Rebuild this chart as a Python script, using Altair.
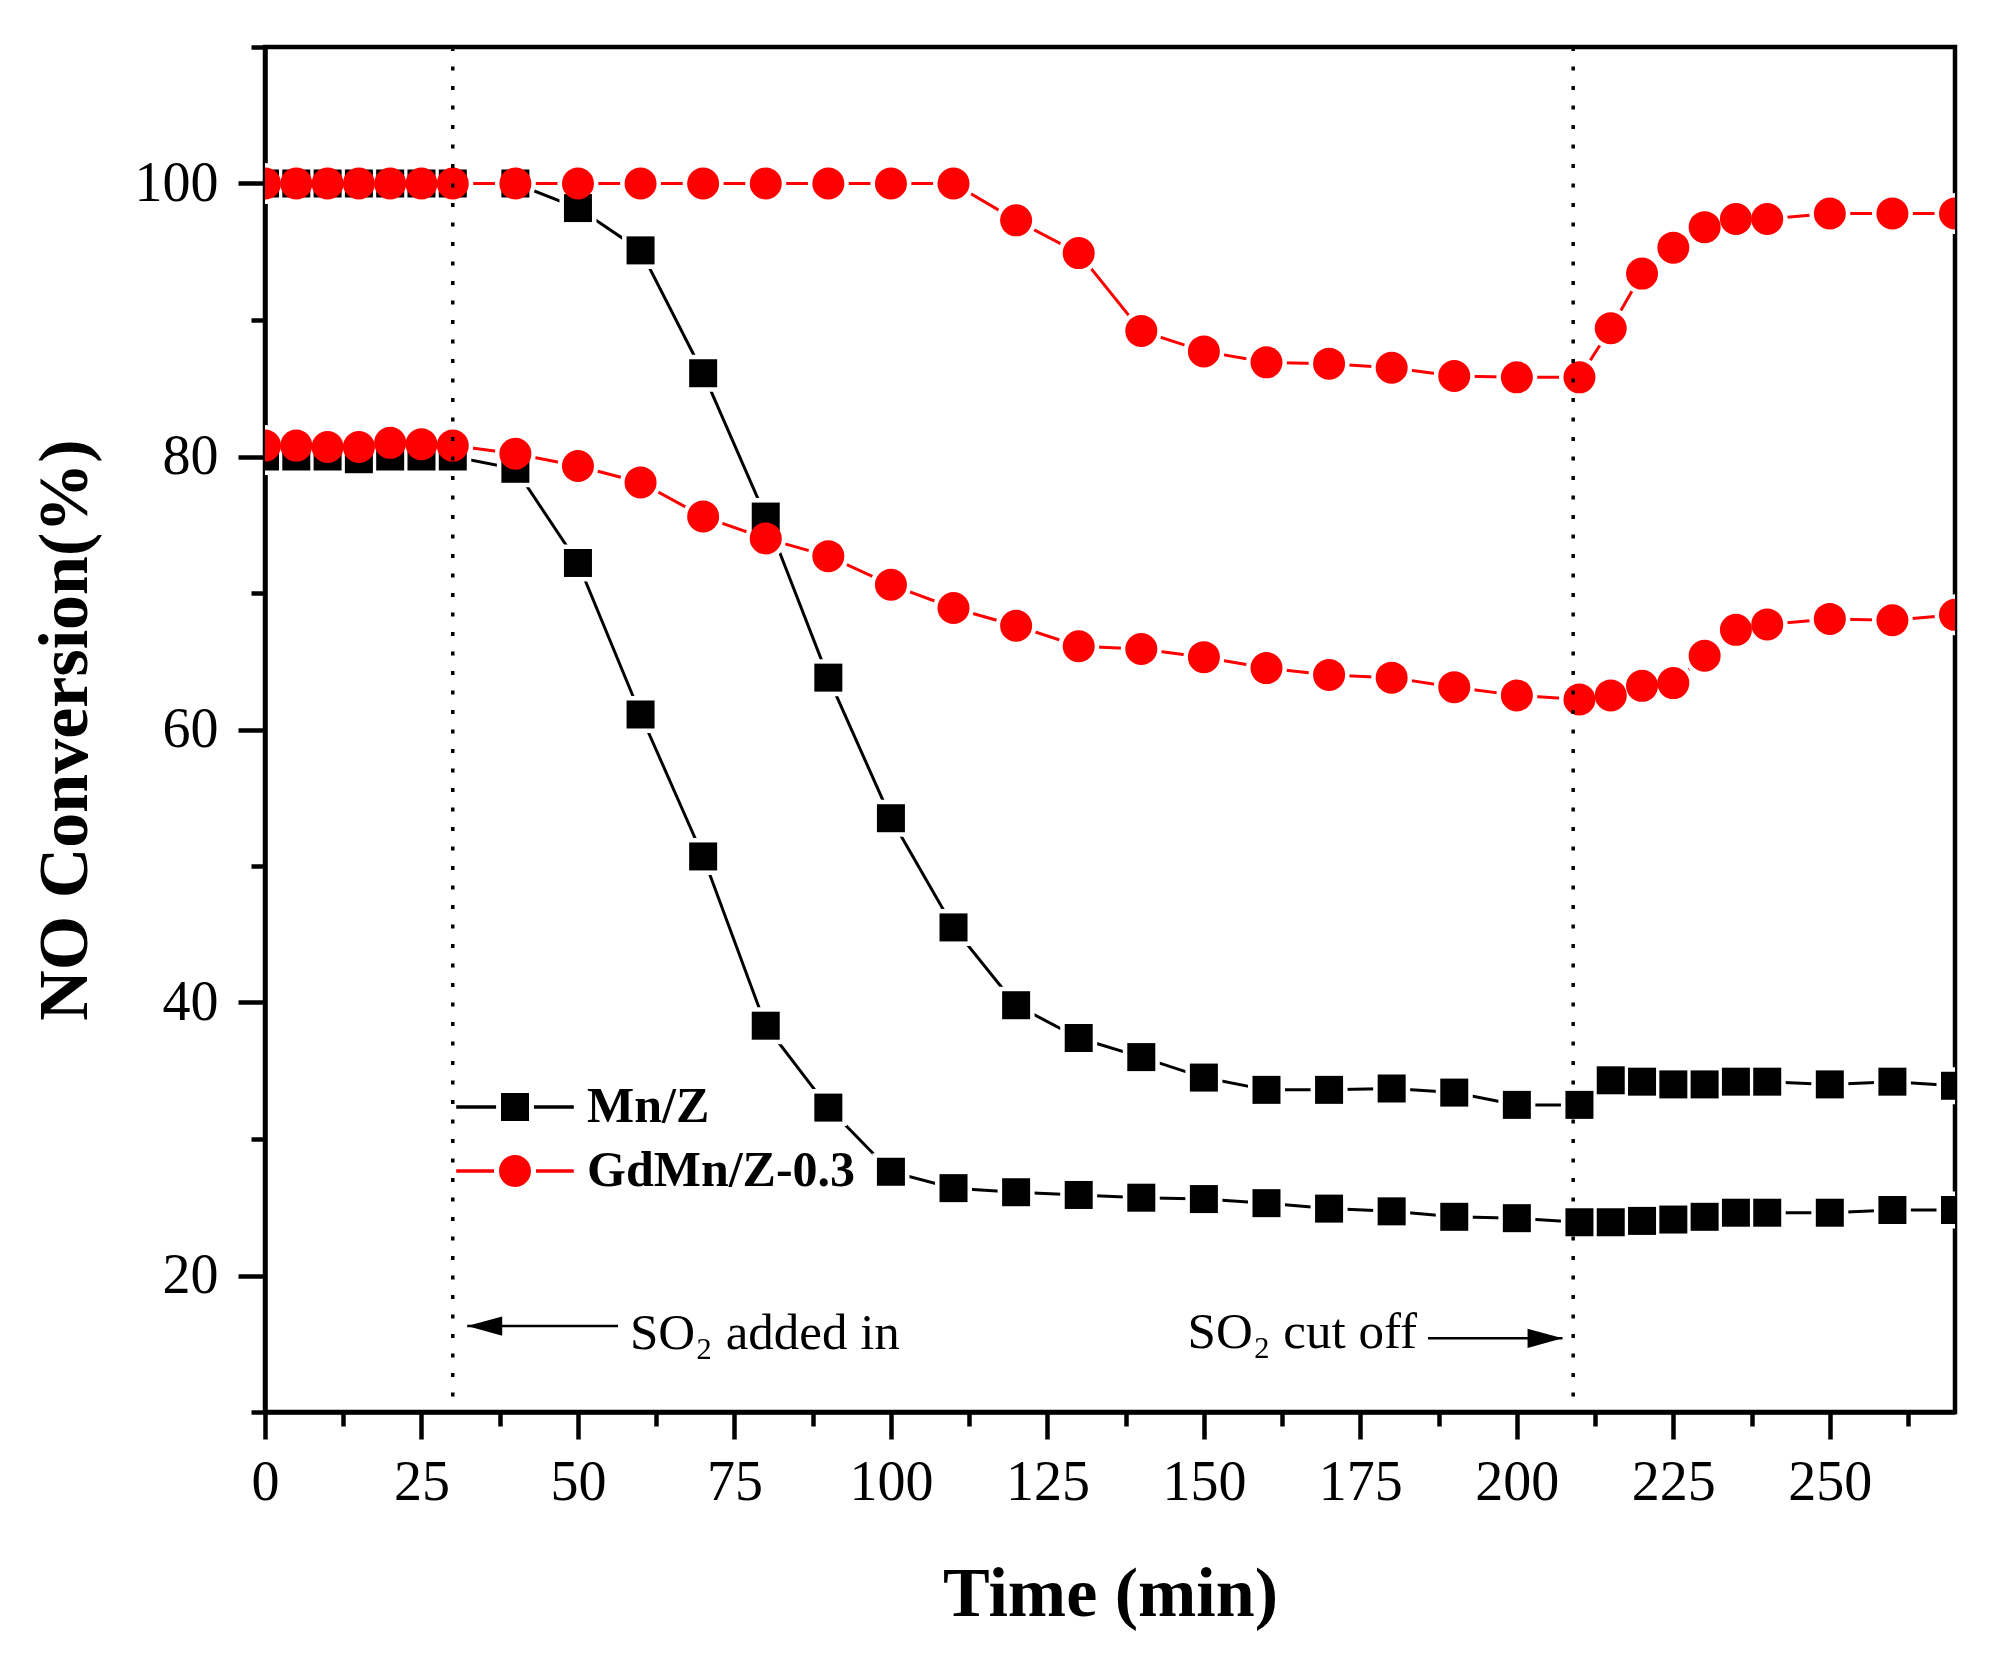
import altair as alt
import pandas as pd

# ---------------- data ----------------
time = [0, 5, 10, 15, 20, 25, 30, 40, 50, 60, 70, 80, 90, 100, 110, 120, 130, 140,
        150, 160, 170, 180, 190, 200, 210, 215, 220, 225, 230, 235, 240, 250, 260, 270]

mnz_high = [100, 100, 100, 100, 100, 100, 100, 100, 98.2, 95.1, 86.1, 75.6, 63.8, 53.5,
            45.5, 39.8, 37.4, 36.0, 34.5, 33.6, 33.6, 33.7, 33.4, 32.5, 32.5,
            34.3, 34.2, 34.0, 34.0, 34.2, 34.2, 34.0, 34.2, 33.9]
mnz_low = [80.0, 80.0, 80.0, 79.8, 80.0, 80.0, 80.0, 79.1, 72.2, 61.1, 50.7, 38.3, 32.3,
           27.6, 26.4, 26.1, 25.9, 25.7, 25.6, 25.3, 24.9, 24.7, 24.3, 24.2, 23.9,
           23.9, 24.0, 24.1, 24.3, 24.6, 24.6, 24.6, 24.8, 24.8]
gd_high = [100, 100, 100, 100, 100, 100, 100, 100, 100, 100, 100, 100, 100, 100, 100,
           97.3, 94.9, 89.2, 87.7, 86.9, 86.8, 86.5, 85.9, 85.8, 85.8,
           89.4, 93.4, 95.3, 96.8, 97.4, 97.4, 97.8, 97.8, 97.8]
gd_low = [80.8, 80.8, 80.7, 80.7, 81.0, 80.9, 80.8, 80.2, 79.3, 78.1, 75.6, 74.0, 72.7,
          70.6, 68.9, 67.6, 66.1, 65.9, 65.3, 64.5, 64.0, 63.8, 63.1, 62.5, 62.2,
          62.5, 63.2, 63.4, 65.4, 67.3, 67.7, 68.1, 68.0, 68.4]

samples = ["Mn/Z", "GdMn/Z-0.3"]
sample_colors = ["#000000", "#FF0000"]

event_times = [30, 209]
ann_text = ["SO\u2082 added in", "SO\u2082 cut off"]
ann_x = [58.3, 147.4]
ann_y = [14.6, 14.7]
arrow_from = [56.4, 185.8]
arrow_to = [32.3, 207.3]
arrow_y = [16.3, 15.4]
arrow_dir = ["left", "right"]

x_major = [0, 25, 50, 75, 100, 125, 150, 175, 200, 225, 250]
x_minor = [12.5, 37.5, 62.5, 87.5, 112.5, 137.5, 162.5, 187.5, 212.5, 237.5, 262.5]
y_major = [20, 40, 60, 80, 100]
y_minor = [10, 30, 50, 70, 90, 110]

rows = []
for s, c, vals in [("Mn/Z", "Mn/Z high", mnz_high), ("Mn/Z", "Mn/Z low", mnz_low),
                   ("GdMn/Z-0.3", "Gd high", gd_high), ("GdMn/Z-0.3", "Gd low", gd_low)]:
    for t, v in zip(time, vals):
        rows.append({"time": t, "value": v, "sample": s, "curve": c})
df = pd.DataFrame(rows)

ev_df = pd.DataFrame({"time": event_times})
ann_df = pd.DataFrame({"text": ann_text, "x": ann_x, "y": ann_y})
arr_df = pd.DataFrame({"x": arrow_from, "x2": arrow_to, "y": arrow_y, "dir": arrow_dir})

# ---------------- styling ----------------
FONT = "Liberation Serif"
W, H = 1690, 1365
xs = alt.Scale(domain=[0, 270], nice=False, zero=False)
ys = alt.Scale(domain=[10, 110], nice=False, zero=False)

x_major_axis = alt.Axis(values=x_major, orient="bottom", title="Time (min)", grid=False,
                        labelFont=FONT, labelFontSize=56, labelPadding=16, tickSize=27,
                        tickWidth=4.5, domainWidth=4.5, labelFlush=False, labelOverlap=False,
                        titleFont=FONT, titleFontSize=70, titleFontWeight="bold",
                        titleX=W / 2, titleY=182, titleAlign="center", titleBaseline="middle")
x_minor_axis = alt.Axis(values=x_minor, orient="bottom", labels=False, title=None, grid=False,
                        domain=False, tickSize=14, tickWidth=4.5)
y_major_axis = alt.Axis(values=y_major, orient="left", title="NO Conversion(%)", grid=False,
                        labelFont=FONT, labelFontSize=56, labelPadding=20, tickSize=27,
                        tickWidth=4.5, domainWidth=4.5, labelFlush=False, labelOverlap=False,
                        titleFont=FONT, titleFontSize=70, titleFontWeight="bold",
                        titleAngle=270, titleX=-200, titleY=H / 2, titleAlign="center",
                        titleBaseline="middle")
y_minor_axis = alt.Axis(values=y_minor, orient="left", labels=False, title=None, grid=False,
                        domain=False, tickSize=14, tickWidth=4.5)

base = alt.Chart(df)


def series(sample, color, shape, size, halo_size, axes=None):
    d = base.transform_filter(alt.datum.sample == sample)
    xa = axes[0] if axes else None
    ya = axes[1] if axes else None
    line = d.mark_line(color=color, strokeWidth=3, clip=True).encode(
        x=alt.X("time:Q", scale=xs, axis=xa),
        y=alt.Y("value:Q", scale=ys, axis=ya),
        detail="curve:N",
    )
    # white gap around each symbol (the lines stop short of the markers)
    halo = d.mark_point(filled=True, shape=shape, size=halo_size, color="white", opacity=1,
                        clip=True).encode(
        x=alt.X("time:Q", scale=xs, axis=None),
        y=alt.Y("value:Q", scale=ys, axis=None),
    )
    pts = d.mark_point(filled=True, shape=shape, size=size, color=color, opacity=1,
                       clip=True).encode(
        x=alt.X("time:Q", scale=xs, axis=None),
        y=alt.Y("value:Q", scale=ys, axis=None),
    )
    return line, halo, pts


bl_line, bl_halo, bl_pts = series("Mn/Z", "#000000", "square", 784, 1369,
                                  (x_major_axis, y_major_axis))
rd_line, rd_halo, rd_pts = series("GdMn/Z-0.3", "#FF0000", "circle", 1024, 1681,
                                  (x_minor_axis, y_minor_axis))

events = alt.Chart(ev_df).mark_rule(color="black", strokeWidth=3.5, strokeDash=[4, 15.5]).encode(
    x=alt.X("time:Q", scale=xs, axis=None)
)

arrows = alt.Chart(arr_df).mark_rule(color="black", strokeWidth=2.5).encode(
    x=alt.X("x:Q", scale=xs, axis=None),
    x2="x2:Q",
    y=alt.Y("y:Q", scale=ys, axis=None),
)
heads = alt.Chart(arr_df).mark_point(filled=True, opacity=1, color="black", size=1225).encode(
    x=alt.X("x2:Q", scale=xs, axis=None),
    y=alt.Y("y:Q", scale=ys, axis=None),
    shape=alt.Shape("dir:N", legend=None, scale=alt.Scale(
        domain=["left", "right"],
        range=["M0,0L2,-0.55L2,0.55Z", "M0,0L-2,-0.55L-2,0.55Z"])),
)
texts = alt.Chart(ann_df).mark_text(font=FONT, fontSize=51, align="left",
                                    baseline="alphabetic", color="black").encode(
    x=alt.X("x:Q", scale=xs, axis=None),
    y=alt.Y("y:Q", scale=ys, axis=None),
    text="text:N",
)

legend_paths = [
    "M-4.2,-0.13H-1.35V0.13H-4.2Z M1.35,-0.13H4.2V0.13H1.35Z M-1,-1H1V1H-1Z",
    "M-4.2,-0.13H-1.5V0.13H-4.2Z M1.5,-0.13H4.2V0.13H1.5Z M-1.14,0A1.14,1.14 0 1,0 1.14,0A1.14,1.14 0 1,0 -1.14,0Z",
]
leg = alt.Legend(title=None, orient="none", legendX=225, legendY=1035, labelFont=FONT,
                 labelFontSize=50, labelFontWeight="bold", labelColor="black",
                 labelOffset=47, labelLimit=600, rowPadding=14, symbolStrokeWidth=0,
                 padding=0, symbolOpacity=1, symbolSize=784)
legend_layer = alt.Chart(alt.Data(values=[])).mark_point(filled=True, opacity=1, size=784).encode(
    color=alt.Color("lab:N", scale=alt.Scale(domain=samples, range=sample_colors), legend=leg),
    shape=alt.Shape("lab:N", scale=alt.Scale(domain=samples, range=legend_paths), legend=leg),
)

chart = alt.layer(
    bl_line, rd_line, bl_halo, rd_halo, bl_pts, rd_pts, events, arrows, heads, texts,
    legend_layer
).resolve_axis(x="independent", y="independent").resolve_scale(
    shape="independent", color="independent"
).properties(
    width=W, height=H,
    autosize=alt.AutoSizeParams(type="none"),
    padding={"left": 257, "top": 39, "right": 30, "bottom": 220},
    background="white",
).configure_view(stroke="black", strokeWidth=4.5).configure_axis(
    labelColor="black", tickColor="black", domainColor="black", titleColor="black"
)

chart.save("out.html", embed_options={"renderer": "svg", "actions": False})
